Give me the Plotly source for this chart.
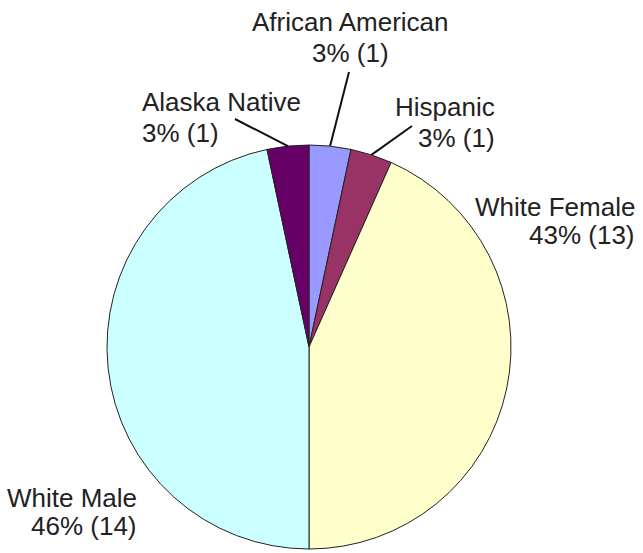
import math
import plotly.graph_objects as go

categories = ["African American", "Hispanic", "White Female", "White Male", "Alaska Native"]
counts = [1, 1, 13, 14, 1]
colors = ["#9999FF", "#993366", "#FFFFCC", "#CCFFFF", "#660066"]

W, H = 643, 553
CX, CY, R = 309, 347, 202  # pie centre / radius in pixels

total = sum(counts)
pct_labels = [f"{int(100 * c / total)}% ({c})" for c in counts]

# label placement: (x px, anchor, line1 centre y px, line2 centre y px, leader start or None)
label_layout = {
    "African American": (350, "center", 22, 53, (349, 72)),
    "Hispanic": (497, "right", 107, 138, (412, 126)),
    "White Female": (637, "right", 207, 235, None),
    "White Male": (139, "right", 498, 526, None),
    "Alaska Native": (140, "left", 102, 133, (235, 119)),
}

fig = go.Figure(go.Pie(
    labels=categories,
    values=counts,
    sort=False,
    direction="clockwise",
    rotation=0,
    marker=dict(colors=colors, line=dict(color="#222222", width=1)),
    textinfo="none",
    hoverinfo="label+value+percent",
    showlegend=False,
    domain=dict(x=[(CX - R) / W, (CX + R) / W], y=[(H - CY - R) / H, (H - CY + R) / H]),
))

def px(x, y):
    return x / W, 1 - y / H

annotations = []
shapes = []
cum = 0
for name, c, pl in zip(categories, counts, pct_labels):
    mid = (cum + c / 2) / total
    cum += c
    ang = 2 * math.pi * mid
    ex, ey = CX + R * math.sin(ang), CY - R * math.cos(ang)
    x, anchor, y1, y2, lead = label_layout[name]
    for txt, yy in ((name, y1), (pl, y2)):
        ax, ay = px(x, yy)
        annotations.append(dict(
            text=txt, x=ax, y=ay, xref="paper", yref="paper",
            xanchor=anchor, yanchor="middle", showarrow=False,
            font=dict(family="Liberation Sans, Arial, sans-serif", size=26, color="#222222"),
        ))
    if lead:
        x0, y0 = px(*lead)
        x1, y1p = px(ex, ey)
        shapes.append(dict(type="line", xref="paper", yref="paper",
                           x0=x0, y0=y0, x1=x1, y1=y1p,
                           line=dict(color="#111111", width=2)))

fig.update_layout(
    width=W, height=H,
    margin=dict(l=0, r=0, t=0, b=0),
    paper_bgcolor="white",
    plot_bgcolor="white",
    annotations=annotations,
    shapes=shapes,
)

fig.write_html("out.html", config={"displayModeBar": False},
               post_script="document.body.style.margin='0';document.body.style.overflow='hidden';")
